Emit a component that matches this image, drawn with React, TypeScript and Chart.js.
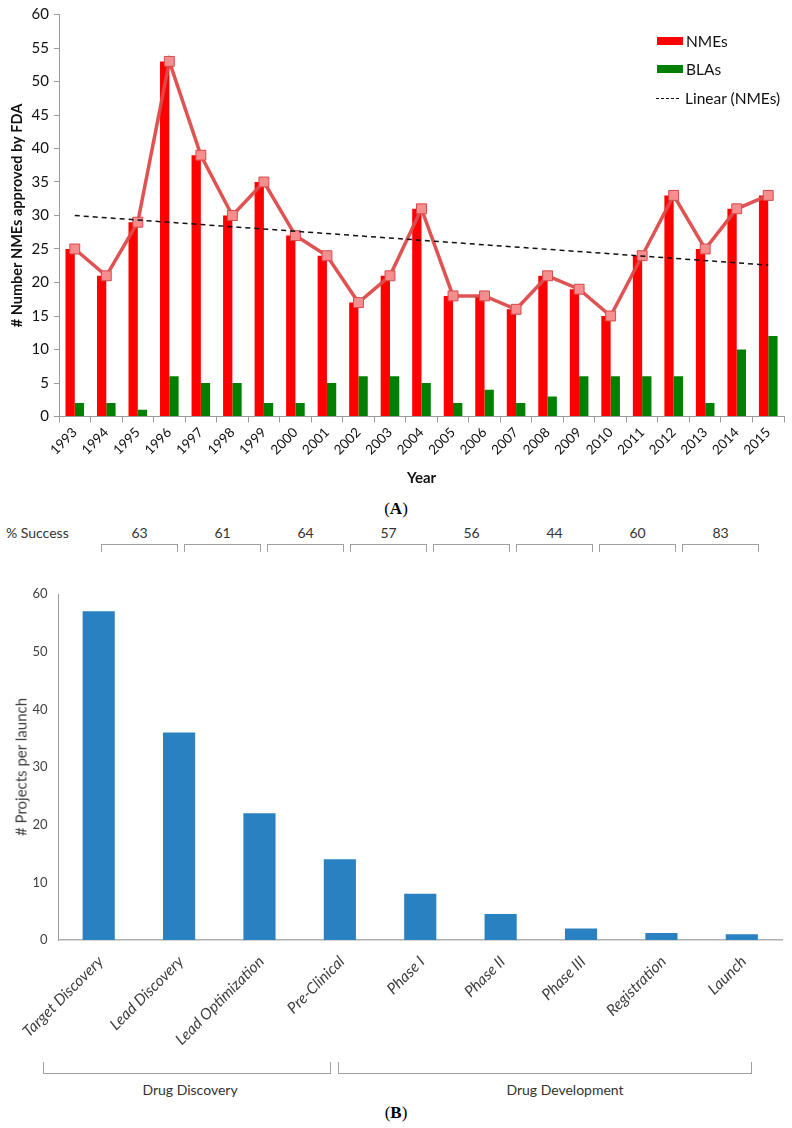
import React, { useEffect, useRef } from "react";
import { Chart, registerables } from "chart.js";

Chart.register(...registerables);

// ---------- Panel A data ----------
const YEARS = ["1993", "1994", "1995", "1996", "1997", "1998", "1999", "2000", "2001", "2002", "2003", "2004", "2005", "2006", "2007", "2008", "2009", "2010", "2011", "2012", "2013", "2014", "2015"];
const NMES = [25, 21, 29, 53, 39, 30, 35, 27, 24, 17, 21, 31, 18, 18, 16, 21, 19, 15, 24, 33, 25, 31, 33];
const BLAS = [2, 2, 1, 6, 5, 5, 2, 2, 5, 6, 6, 5, 2, 4, 2, 3, 6, 6, 6, 6, 2, 10, 12];
const TREND_START = 30.0; // Linear (NMEs) value at 1993
const TREND_END = 22.6; // Linear (NMEs) value at 2015
const LEGEND_A = ["NMEs", "BLAs", "Linear (NMEs)"];

// ---------- Panel B data ----------
const STAGES = ["Target Discovery", "Lead Discovery", "Lead Optimization", "Pre-Clinical", "Phase I", "Phase II", "Phase III", "Registration", "Launch"];
const PROJECTS = [57, 36, 22, 14, 8, 4.5, 2, 1.2, 1];
const SUCCESS = ["63", "61", "64", "57", "56", "44", "60", "83"];
const GROUPS = ["Drug Discovery", "Drug Development"];

const FONT = "Lato, 'Open Sans', sans-serif";
const AXIS_GRAY = "#9a9a9a";

function ChartA() {
  const ref = useRef<HTMLCanvasElement>(null);
  useEffect(() => {
    const last = YEARS.length - 1;
    const trend = YEARS.map((_, i) => (i === 0 ? TREND_START : i === last ? TREND_END : null));
    const chart = new Chart(ref.current as HTMLCanvasElement, {
      type: "bar",
      data: {
        labels: YEARS,
        datasets: [
          {
            type: "line",
            label: LEGEND_A[2],
            data: trend as any,
            borderColor: "#111",
            borderWidth: 1.5,
            borderDash: [5, 4],
            pointRadius: 0,
            spanGaps: true,
            order: 0,
          } as any,
          {
            type: "line",
            label: "NMEs line",
            data: NMES,
            borderColor: "rgba(222,74,74,0.95)",
            borderWidth: 3.5,
            pointStyle: "rect",
            pointRadius: 7,
            pointBackgroundColor: "#f58e8e",
            pointBorderColor: "#d94a4a",
            pointBorderWidth: 1,
            order: 1,
          } as any,
          {
            label: LEGEND_A[0],
            data: NMES,
            backgroundColor: "#ff0000",
            categoryPercentage: 0.59,
            barPercentage: 1,
            order: 2,
          },
          {
            label: LEGEND_A[1],
            data: BLAS,
            backgroundColor: "#008000",
            categoryPercentage: 0.59,
            barPercentage: 1,
            order: 3,
          },
        ],
      },
      options: {
        animation: false,
        responsive: false,
        layout: { padding: { top: 14.5, right: 5, left: 0, bottom: 0 } },
        plugins: { legend: { display: false }, tooltip: { enabled: false } },
        scales: {
          x: {
            offset: true,
            grid: { display: true, drawOnChartArea: false, drawTicks: true, tickLength: 6, color: AXIS_GRAY, offset: true },
            border: { display: true, color: AXIS_GRAY, width: 1 },
            ticks: { font: { family: FONT, size: 13.5 }, color: "#111", maxRotation: 45, minRotation: 45, autoSkip: false, padding: 2 },
            title: { display: true, text: "Year", font: { family: FONT, size: 15, weight: "bold" }, color: "#111", padding: { top: 2, bottom: 8 } },
            afterFit: (s: any) => { s.height = 78.5; },
          },
          y: {
            min: 0,
            max: 60,
            ticks: { stepSize: 5, font: { family: FONT, size: 15 }, color: "#111", padding: 5 },
            grid: { display: true, drawOnChartArea: false, drawTicks: true, tickLength: 5, color: AXIS_GRAY },
            border: { display: true, color: AXIS_GRAY, width: 1 },
            title: { display: true, text: "# Number NMEs approved by FDA", font: { family: FONT, size: 14.5, weight: "bold" }, color: "#111", padding: { top: 9, bottom: 0 } },
            afterFit: (s: any) => { s.width = 59; },
          },
        },
      } as any,
    });
    return () => chart.destroy();
  }, []);
  return <canvas ref={ref} width={792} height={495} style={{ position: "absolute", left: 0, top: 0, display: "block" }} />;
}

// Draws the category labels of panel B at 45 degrees, anchored on each tick of the x scale.
const rotatedLabelsB = {
  id: "rotatedLabelsB",
  afterDraw(chart: any) {
    const xs = chart.scales.x;
    const ctx = chart.ctx;
    ctx.save();
    ctx.font = `italic 15.5px ${FONT}`;
    ctx.fillStyle = "#404040";
    ctx.textAlign = "right";
    ctx.textBaseline = "middle";
    const labels: string[] = chart.data.labels;
    labels.forEach((lab, i) => {
      const x = xs.getPixelForTick(i);
      ctx.save();
      ctx.translate(x + 2, xs.top + 19);
      ctx.rotate(-Math.PI / 4);
      ctx.fillText(lab, 0, 0);
      ctx.restore();
    });
    ctx.restore();
  },
};

function ChartB() {
  const ref = useRef<HTMLCanvasElement>(null);
  useEffect(() => {
    const chart = new Chart(ref.current as HTMLCanvasElement, {
      type: "bar",
      data: {
        labels: STAGES,
        datasets: [
          {
            label: "# Projects per launch",
            data: PROJECTS,
            backgroundColor: "#2a81c2",
            categoryPercentage: 0.8,
            barPercentage: 0.5,
          },
        ],
      },
      options: {
        animation: false,
        responsive: false,
        layout: { padding: { top: 19, right: 10, left: 0, bottom: 0 } },
        plugins: { legend: { display: false }, tooltip: { enabled: false } },
        scales: {
          x: {
            offset: true,
            grid: { display: false, drawTicks: false },
            border: { display: true, color: "#b0b0b0", width: 1.5 },
            ticks: { display: false },
            afterFit: (s: any) => { s.height = 105; },
          },
          y: {
            min: 0,
            max: 60,
            ticks: { stepSize: 10, font: { family: FONT, size: 13 }, color: "#404040", padding: 11 },
            grid: { display: false, drawTicks: false },
            border: { display: true, color: "#9a9a9a", width: 1 },
            title: { display: false },
            afterFit: (s: any) => { s.width = 58.5; },
          },
        },
      } as any,
      plugins: [rotatedLabelsB],
    });
    return () => chart.destroy();
  }, []);
  return <canvas ref={ref} width={792} height={470} style={{ position: "absolute", left: 0, top: 575, display: "block" }} />;
}

function Txt(props: { x: number; y: number; children: any; style?: any; anchor?: "center" | "left" }) {
  const tx = props.anchor === "left" ? "0" : "-50%";
  return (
    <div
      style={{
        position: "absolute",
        left: props.x,
        top: props.y,
        transform: `translate(${tx}, -50%)`,
        whiteSpace: "nowrap",
        fontFamily: FONT,
        lineHeight: 1,
        ...props.style,
      }}
    >
      {props.children}
    </div>
  );
}

export default function App() {
  const successStart = 101;
  const successStep = 83;
  const bracketW = 77;
  return (
    <div style={{ position: "absolute", left: 0, top: 0, width: 792, height: 1128, background: "#fff", overflow: "hidden" }}>
      <ChartA />
      {/* Legend A */}
      <div style={{ position: "absolute", left: 657, top: 37, width: 26, height: 8, background: "#ff0000" }} />
      <Txt x={686} y={42} anchor="left" style={{ fontSize: 15.5, color: "#111" }}>{LEGEND_A[0]}</Txt>
      <div style={{ position: "absolute", left: 657, top: 65, width: 26, height: 8, background: "#008000" }} />
      <Txt x={686} y={70} anchor="left" style={{ fontSize: 15.5, color: "#111" }}>{LEGEND_A[1]}</Txt>
      <div style={{ position: "absolute", left: 656, top: 98, width: 23, height: 0, borderTop: "1.5px dashed #111" }} />
      <Txt x={685} y={99} anchor="left" style={{ fontSize: 15.5, color: "#111" }}>{LEGEND_A[2]}</Txt>

      <Txt x={396} y={508} style={{ fontFamily: "'Liberation Serif', serif", fontSize: 17, color: "#000" }}>
        (<b>A</b>)
      </Txt>

      {/* % Success row */}
      <Txt x={6} y={533} anchor="left" style={{ fontSize: 14, color: "#333" }}>% Success</Txt>
      {SUCCESS.map((s, i) => (
        <React.Fragment key={i}>
          <Txt x={successStart + i * successStep + bracketW / 2} y={533} style={{ fontSize: 14, color: "#333" }}>{s}</Txt>
          <div
            style={{
              position: "absolute",
              left: successStart + i * successStep,
              top: 544,
              width: bracketW,
              height: 8,
              borderTop: "1px solid #a0a0a0",
              borderLeft: "1px solid #a0a0a0",
              borderRight: "1px solid #a0a0a0",
              boxSizing: "border-box",
            }}
          />
        </React.Fragment>
      ))}

      <ChartB />
      {/* Panel B y-axis title */}
      <div
        style={{
          position: "absolute",
          left: 21,
          top: 767,
          transform: "translate(-50%, -50%) rotate(-90deg)",
          whiteSpace: "nowrap",
          fontFamily: FONT,
          fontSize: 15,
          lineHeight: 1,
          color: "#404040",
        }}
      >
        # Projects per launch
      </div>

      {/* Drug group brackets */}
      <div style={{ position: "absolute", left: 43, top: 1062, width: 288, height: 12, borderBottom: "1px solid #a0a0a0", borderLeft: "1px solid #a0a0a0", borderRight: "1px solid #a0a0a0", boxSizing: "border-box" }} />
      <div style={{ position: "absolute", left: 338, top: 1062, width: 414, height: 12, borderBottom: "1px solid #a0a0a0", borderLeft: "1px solid #a0a0a0", borderRight: "1px solid #a0a0a0", boxSizing: "border-box" }} />
      <Txt x={190} y={1090} style={{ fontSize: 14, color: "#333" }}>{GROUPS[0]}</Txt>
      <Txt x={565} y={1090} style={{ fontSize: 14, color: "#333" }}>{GROUPS[1]}</Txt>

      <Txt x={396} y={1112} style={{ fontFamily: "'Liberation Serif', serif", fontSize: 17, color: "#000" }}>
        (<b>B</b>)
      </Txt>
    </div>
  );
}
